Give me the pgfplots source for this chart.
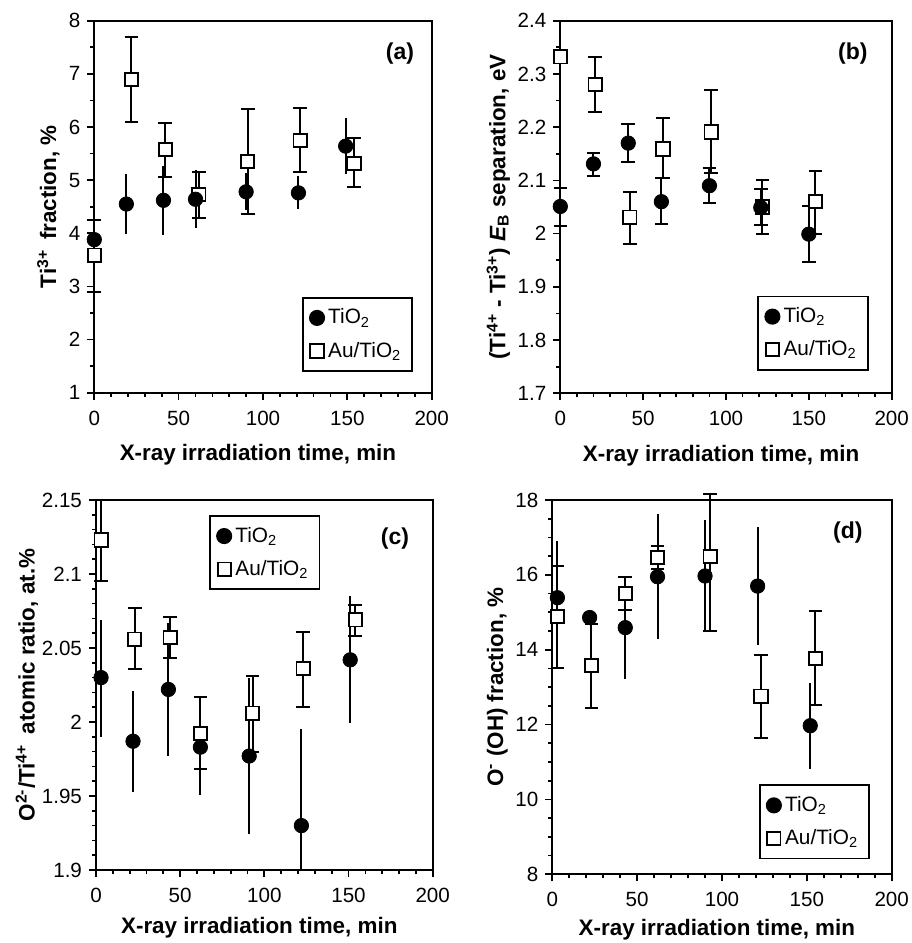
\documentclass[border=0pt]{standalone}
\usepackage{fontspec}
\setmainfont{Liberation Sans}
\usepackage{pgfplots}
\usepackage{pgfplotstable}
\pgfplotsset{compat=1.18}

%% columns: time, value, error plus, error minus
\pgfplotstableread{
x y ep em
0 3.88 0.49 0.49
19 4.55 0.56 0.56
41 4.62 0.65 0.65
60 4.64 0.55 0.55
90 4.78 0.35 0.35
121 4.76 0.31 0.31
149 5.64 0.52 0.52
}\aTi
\pgfplotstableread{
x y ep em
0 3.59 0.66 0.69
22 6.90 0.80 0.80
42 5.57 0.50 0.51
62 4.73 0.43 0.45
91 5.35 0.98 0.98
122 5.75 0.60 0.60
154 5.31 0.49 0.43
}\aAu
\pgfplotstableread{
x y ep em
0 2.051 0.035 0.036
20 2.131 0.021 0.023
41 2.170 0.036 0.036
61 2.060 0.044 0.042
90 2.090 0.033 0.033
121 2.049 0.034 0.033
150 1.999 0.053 0.052
}\bTi
\pgfplotstableread{
x y ep em
0 2.332 0.010 0.010
21 2.280 0.051 0.052
42 2.031 0.048 0.051
62 2.159 0.058 0.055
91 2.191 0.078 0.078
122 2.050 0.051 0.050
154 2.060 0.058 0.060
}\bAu
\pgfplotstableread{
x y ep em
3 2.030 0.039 0.040
22 1.987 0.034 0.034
43 2.022 0.045 0.045
62 1.983 0.032 0.032
91 1.977 0.053 0.053
122 1.930 0.065 0.030
151 2.042 0.043 0.043
}\cTi
\pgfplotstableread{
x y ep em
3 2.123 0.027 0.028
23 2.056 0.021 0.020
44 2.057 0.014 0.014
62 1.992 0.025 0.024
93 2.006 0.025 0.026
123 2.036 0.025 0.026
154 2.069 0.010 0.011
}\cAu
\pgfplotstableread{
x y ep em
3 15.39 1.52 1.52
22 14.86 0.15 0.15
43 14.59 1.36 1.36
62 15.95 1.67 1.67
90 15.97 1.50 1.50
121 15.70 1.57 1.57
152 11.97 1.15 1.15
}\dTi
\pgfplotstableread{
x y ep em
3 14.88 1.37 1.37
23 13.57 1.13 1.13
43 15.51 0.44 0.44
62 16.46 0.30 0.30
93 16.49 1.67 1.98
123 12.76 1.11 1.11
155 13.77 1.26 1.26
}\dAu

\tikzset{tag/.style={font=\bfseries\fontsize{11.5}{12}\selectfont}}

\pgfplotsset{
  panel/.style={
    scale only axis,
    anchor=south west,
    xmin=0, xmax=200, xtick={0,50,...,200},
    minor x tick num=4,
    tick align=outside, tick pos=left,
    major tick length=3.5pt, minor tick length=2pt,
    every tick/.style={black, line width=0.85pt},
    axis line style={line width=0.85pt},
    tick label style={font=\fontsize{10.3}{11}\selectfont},
    xticklabel style={yshift=-2pt},
    /pgf/number format/assume math mode=true,
    label style={font=\bfseries\fontsize{11.2}{12}\selectfont},
    xlabel={X-ray irradiation time, min},
    clip=false,
    legend style={draw=black, line width=0.85pt,
      font=\fontsize{10.4}{11}\selectfont, cells={anchor=west},
      row sep=3.5pt, inner sep=3.5pt},
    reverse legend,
    legend image code/.code={\draw[mark repeat=1,#1] plot coordinates {(0.13cm,0cm)};},
  },
  eb/.style={
    error bars/y dir=both, error bars/y explicit,
    error bars/error bar style={line width=1pt}},
  caps/.style={error bars/error mark=-,
    error bars/error mark options={rotate=90, mark size=3.4pt, line width=1pt}},
  ti/.style={only marks, mark=*, mark size=3.6pt, black, eb,
    error bars/error mark=none},
  tib/.style={only marks, mark=*, mark size=3.6pt, black, eb, caps},
  au/.style={only marks, mark=square*, mark size=3.3pt,
    mark options={fill=white, draw=black, line width=0.95pt}, black, eb, caps},
}

\begin{document}
\begin{tikzpicture}
\useasboundingbox (0,0) rectangle (455.5pt,471.5pt);

%% (a)
\begin{axis}[panel, at={(47.15pt,275.15pt)}, width=168.7pt, height=186pt,
  ymin=1, ymax=8, ytick={1,2,3,4,5,6,7,8}, minor y tick num=1,
  ylabel={Ti\textsuperscript{3+}\, fraction, \%},
  ylabel style={at={(axis description cs:-0.136,0.5)}, anchor=center},
  xlabel style={at={(axis description cs:0.485,-0.167)}, anchor=center},
  legend style={at={(0.945,0.056)}, anchor=south east}]
\addplot[au] table[x=x, y=y, y error plus=ep, y error minus=em] {\aAu};
\addlegendentry{Au/TiO\textsubscript{2}}
\addplot[ti] table[x=x, y=y, y error plus=ep, y error minus=em] {\aTi};
\addlegendentry{TiO\textsubscript{2}}
\node[tag] at (rel axis cs:0.906,0.913) {(a)};
\end{axis}

%% (b)
\begin{axis}[panel, at={(280.15pt,274.85pt)}, width=165.7pt, height=186.3pt,
  ymin=1.7, ymax=2.4, ytick={1.7,1.8,1.9,2,2.1,2.2,2.3,2.4}, minor y tick num=1,
  ylabel={(Ti\textsuperscript{4+} - Ti\textsuperscript{3+}) \textit{E}\textsubscript{B} separation, eV},
  ylabel style={at={(axis description cs:-0.187,0.5)}, anchor=center},
  xlabel style={at={(axis description cs:0.485,-0.167)}, anchor=center},
  legend style={at={(0.930,0.061)}, anchor=south east}]
\addplot[au] table[x=x, y=y, y error plus=ep, y error minus=em] {\bAu};
\addlegendentry{Au/TiO\textsubscript{2}}
\addplot[tib] table[x=x, y=y, y error plus=ep, y error minus=em] {\bTi};
\addlegendentry{TiO\textsubscript{2}}
\node[tag] at (rel axis cs:0.883,0.913) {(b)};
\end{axis}

%% (c)
\begin{axis}[panel, at={(48pt,36.5pt)}, width=168.35pt, height=185pt,
  ymin=1.9, ymax=2.15, ytick={1.9,1.95,2,2.05,2.1,2.15}, minor y tick num=4,
  ylabel={O\textsuperscript{2-}/Ti\textsuperscript{4+}\, atomic ratio, at.\%},
  ylabel style={at={(axis description cs:-0.205,0.5)}, anchor=center},
  xlabel style={at={(axis description cs:0.485,-0.157)}, anchor=center},
  legend style={at={(0.336,0.959)}, anchor=north west}]
\addplot[au] table[x=x, y=y, y error plus=ep, y error minus=em] {\cAu};
\addlegendentry{Au/TiO\textsubscript{2}}
\addplot[ti] table[x=x, y=y, y error plus=ep, y error minus=em] {\cTi};
\addlegendentry{TiO\textsubscript{2}}
\node[tag] at (rel axis cs:0.888,0.897) {(c)};
\end{axis}

%% (d)
\begin{axis}[panel, at={(276.15pt,34.35pt)}, width=169.7pt, height=187.15pt,
  ymin=8, ymax=18, ytick={8,10,12,14,16,18}, minor y tick num=3,
  ylabel={O\textsuperscript{-} (OH) fraction, \%},
  ylabel style={at={(axis description cs:-0.162,0.5)}, anchor=center},
  xlabel style={at={(axis description cs:0.485,-0.149)}, anchor=center},
  legend style={at={(0.936,0.040)}, anchor=south east}]
\addplot[au] table[x=x, y=y, y error plus=ep, y error minus=em] {\dAu};
\addlegendentry{Au/TiO\textsubscript{2}}
\addplot[ti] table[x=x, y=y, y error plus=ep, y error minus=em] {\dTi};
\addlegendentry{TiO\textsubscript{2}}
\node[tag] at (rel axis cs:0.871,0.912) {(d)};
\end{axis}
\end{tikzpicture}
\end{document}
